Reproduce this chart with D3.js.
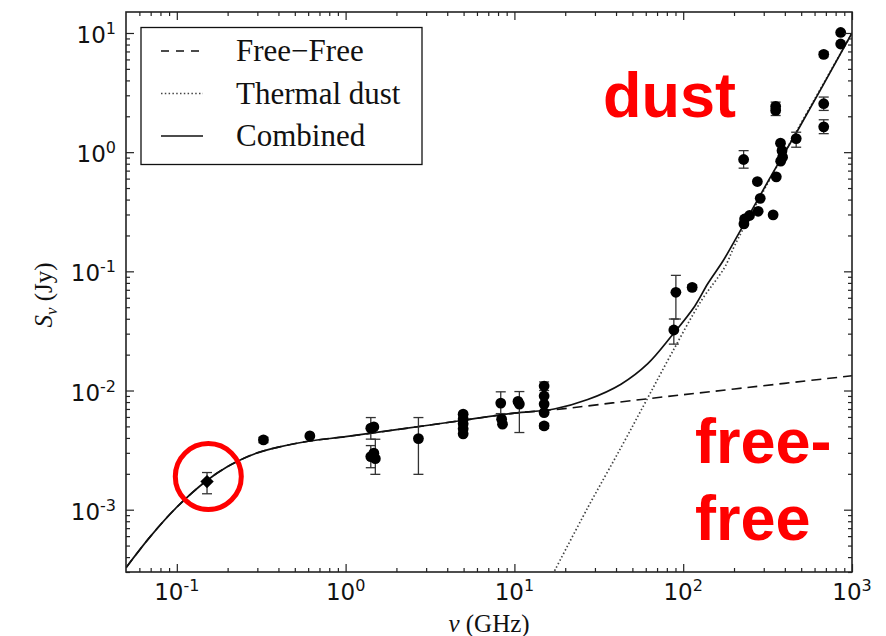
<!DOCTYPE html>
<html>
<head>
<meta charset="utf-8">
<script src="https://cdn.jsdelivr.net/npm/d3@7"></script>
<style>
  body { margin: 0; background: #fff; }
  svg { display: block; }
</style>
</head>
<body>
<svg></svg>
<script>
// Size of the page and the plot box
var width = 886,
    height = 636
var plotLeft = 126, plotRight = 852, plotTop = 12, plotBottom = 572

// Measured points: frequency (GHz), flux (Jy), error bar low / high (null = none)
var pointFreq = [0.326, 0.614, 1.41, 1.47, 1.41, 1.50, 1.47, 2.7,
                 4.97, 4.97, 4.97, 4.97, 4.97, 8.3, 8.4, 8.5, 10.7, 10.5,
                 15.0, 15.0, 15.0, 15.0, 15.0,
                 90.5, 88, 113,
                 857, 857, 680, 680, 680, 353, 353, 377, 385, 388, 378,
                 467, 228, 275, 356, 286, 278, 231, 247, 229, 341]
var pointFlux = [3.85e-3, 4.16e-3, 4.83e-3, 4.95e-3, 2.79e-3, 2.68e-3, 2.98e-3, 3.95e-3,
                 6.33e-3, 5.78e-3, 5.25e-3, 4.77e-3, 4.33e-3, 7.84e-3, 5.75e-3, 5.22e-3, 7.69e-3, 8.1e-3,
                 1.09e-2, 9.0e-3, 7.69e-3, 6.53e-3, 5.05e-3,
                 6.67e-2, 3.22e-2, 7.34e-2,
                 10.1, 8.08, 6.62, 2.55, 1.63, 2.42, 2.24, 1.19, 1.03, 0.908, 0.84,
                 1.30, 0.868, 0.567, 0.621, 0.41, 0.319, 0.275, 0.294, 0.25, 0.298]
var pointLow  = [3.65e-3, null, 3.91e-3, null, 2.25e-3, 1.98e-3, null, 1.98e-3,
                 null, null, null, null, null, 6.4e-3, null, null, 4.44e-3, null,
                 1.0e-2, null, null, null, 4.8e-3,
                 3.98e-2, 2.45e-2, 7.0e-2,
                 null, null, 6.3, 2.24, 1.43, 2.03, null, null, null, null, null,
                 1.10, 0.734, null, null, null, null, null, null, null, null]
var pointHigh = [4.05e-3, null, 5.93e-3, null, 3.45e-3, 3.9e-3, null, 5.93e-3,
                 null, null, null, null, null, 9.75e-3, null, null, 9.8e-3, null,
                 1.18e-2, null, null, null, 5.3e-3,
                 9.25e-2, 3.98e-2, 7.7e-2,
                 null, null, 6.95, 2.90, 1.87, 2.63, null, null, null, null, null,
                 1.47, 1.03, null, null, null, null, null, null, null, null]

// The highlighted low-frequency point (diamond)
var diamondFreq = 0.151, diamondFlux = 1.72e-3, diamondLow = 1.36e-3, diamondHigh = 2.05e-3

// Model curves: [frequency, flux]
var freeFree = [[0.05, 3.26e-4], [0.07, 6.0e-4], [0.1, 1.05e-3], [0.15, 1.75e-3], [0.2, 2.3e-3],
                [0.25, 2.7e-3], [0.3, 3.0e-3], [0.4, 3.35e-3], [0.6, 3.75e-3], [1, 4.1e-3],
                [2, 4.69e-3], [5, 5.63e-3], [10, 6.46e-3], [17.2, 6.9e-3], [60.3, 8.5e-3],
                [201, 1.03e-2], [1000, 1.33e-2]]
var thermalDust = [[16.5, 2.7e-4], [27.2, 1.04e-3], [42.8, 3.32e-3], [60.3, 8.18e-3],
                   [84.9, 2.02e-2], [128, 5.67e-2], [176, 0.108], [202, 0.165],
                   [337, 0.645], [1000, 9.95]]
var combined = [[0.05, 3.26e-4], [0.07, 6.0e-4], [0.1, 1.05e-3], [0.15, 1.75e-3], [0.2, 2.3e-3],
                [0.25, 2.7e-3], [0.3, 3.0e-3], [0.4, 3.35e-3], [0.6, 3.75e-3], [1, 4.1e-3],
                [2, 4.69e-3], [5, 5.63e-3], [10, 6.46e-3], [17.2, 7.0e-3], [27.2, 8.4e-3],
                [42.8, 1.13e-2], [61.7, 1.68e-2], [85, 2.85e-2], [117, 5.1e-2], [140, 7.9e-2],
                [172, 0.122], [202, 0.181], [337, 0.658], [480, 1.55], [1000, 10.0]]

// Tick values
var xMajor = [0.1, 1, 10, 100, 1000]
var xExp = ["-1", "0", "1", "2", "3"]
var yMajor = [1e-3, 1e-2, 1e-1, 1, 10]
var yExp = ["-3", "-2", "-1", "0", "1"]

var legendNames = ["Free\u2212Free", "Thermal dust", "Combined"]

var svg = d3.select("svg")
    .attr("width", width)
    .attr("height", height)

var x = d3.scaleLog().domain([0.05, 1000]).range([plotLeft, plotRight])
var y = d3.scaleLog().domain([3e-4, 15]).range([plotBottom, plotTop])

// minor ticks for each decade
function minorTicks(scale) {
    var d = scale.domain(), out = []
    for (var e = -4; e <= 3; e++) {
        for (var m = 2; m <= 9; m++) {
            var v = m * Math.pow(10, e)
            if (v > d[0] && v < d[1]) out.push(v)
        }
    }
    return out
}

svg.append("defs").append("clipPath").attr("id", "plot")
    .append("rect")
    .attr("x", plotLeft).attr("y", plotTop)
    .attr("width", plotRight - plotLeft).attr("height", plotBottom - plotTop)

var plot = svg.append("g").attr("clip-path", "url(#plot)")

var line = d3.line()
    .x(function(d) { return x(d[0]) })
    .y(function(d) { return y(d[1]) })
    .curve(d3.curveCatmullRom.alpha(0.5))

plot.append("path")
    .attr("d", line(freeFree))
    .style("fill", "none")
    .style("stroke", "#111")
    .style("stroke-width", "1.6px")
    .style("stroke-dasharray", "10,6")

plot.append("path")
    .attr("d", line(thermalDust))
    .style("fill", "none")
    .style("stroke", "#444")
    .style("stroke-width", "1.7px")
    .style("stroke-dasharray", "1.5,2.3")

plot.append("path")
    .attr("d", line(combined))
    .style("fill", "none")
    .style("stroke", "#111")
    .style("stroke-width", "1.7px")

// Error bars
var points = pointFreq.map(function(f, i) {
    return {f: f, s: pointFlux[i], lo: pointLow[i], hi: pointHigh[i]}
})
var withErr = points.filter(function(d) { return d.lo !== null })
withErr.push({f: diamondFreq, s: diamondFlux, lo: diamondLow, hi: diamondHigh})

var bars = plot.append("g")
    .style("stroke", "#333")
    .style("stroke-width", "1.3px")
bars.selectAll("line.v")
    .data(withErr)
    .enter().append("line")
    .attr("x1", function(d) { return x(d.f) })
    .attr("x2", function(d) { return x(d.f) })
    .attr("y1", function(d) { return y(d.lo) })
    .attr("y2", function(d) { return y(d.hi) })
bars.selectAll("line.lo")
    .data(withErr)
    .enter().append("line")
    .attr("x1", function(d) { return x(d.f) - 5 })
    .attr("x2", function(d) { return x(d.f) + 5 })
    .attr("y1", function(d) { return y(d.lo) })
    .attr("y2", function(d) { return y(d.lo) })
bars.selectAll("line.hi")
    .data(withErr)
    .enter().append("line")
    .attr("x1", function(d) { return x(d.f) - 5 })
    .attr("x2", function(d) { return x(d.f) + 5 })
    .attr("y1", function(d) { return y(d.hi) })
    .attr("y2", function(d) { return y(d.hi) })

plot.selectAll("circle.pt")
    .data(points)
    .enter().append("circle")
    .attr("cx", function(d) { return x(d.f) })
    .attr("cy", function(d) { return y(d.s) })
    .attr("r", 5.4)
    .style("fill", "#000")

plot.append("path")
    .attr("d", d3.symbol().type(d3.symbolDiamond2).size(115)())
    .attr("transform", "translate(" + x(diamondFreq) + "," + y(diamondFlux) + ")")
    .style("fill", "#000")

// Axes: ticks inside on all four sides
function styleAxis(g) {
    g.select(".domain").remove()
    g.selectAll("line").style("stroke", "#222").style("stroke-width", "1.2px")
}
var axes = [
    [d3.axisBottom, x, "translate(0," + plotBottom + ")", xMajor],
    [d3.axisTop, x, "translate(0," + plotTop + ")", xMajor],
    [d3.axisLeft, y, "translate(" + plotLeft + ",0)", yMajor],
    [d3.axisRight, y, "translate(" + plotRight + ",0)", yMajor]
]
axes.forEach(function(a) {
    svg.append("g").attr("transform", a[2])
        .call(a[0](a[1]).tickValues(a[3]).tickSize(-8).tickFormat(""))
        .call(styleAxis)
    svg.append("g").attr("transform", a[2])
        .call(a[0](a[1]).tickValues(minorTicks(a[1])).tickSize(-4).tickFormat(""))
        .call(styleAxis)
})

// Frame
svg.append("rect")
    .attr("x", plotLeft).attr("y", plotTop)
    .attr("width", plotRight - plotLeft).attr("height", plotBottom - plotTop)
    .style("fill", "none")
    .style("stroke", "#222")
    .style("stroke-width", "1.6px")

// Tick labels 10^n
var xLab = svg.selectAll("text.xl")
    .data(xMajor)
    .enter().append("text")
    .attr("class", "xl")
    .attr("x", function(d) { return x(d) })
    .attr("y", 600)
    .attr("text-anchor", "middle")
    .style("font", "23px 'DejaVu Sans'")
    .style("fill", "#111")
xLab.append("tspan").text("10")
xLab.append("tspan").attr("dy", -9).style("font-size", "16px")
    .text(function(d, i) { return xExp[i] })

var yLab = svg.selectAll("text.yl")
    .data(yMajor)
    .enter().append("text")
    .attr("class", "yl")
    .attr("x", 116)
    .attr("y", function(d) { return y(d) + 10 })
    .attr("text-anchor", "end")
    .style("font", "23px 'DejaVu Sans'")
    .style("fill", "#111")
yLab.append("tspan").text("10")
yLab.append("tspan").attr("dy", -9).style("font-size", "16px")
    .text(function(d, i) { return yExp[i] })

// Axis titles
var xt = svg.append("text")
    .attr("x", (plotLeft + plotRight) / 2)
    .attr("y", 632)
    .attr("text-anchor", "middle")
    .style("font", "25px 'Liberation Serif'")
    .style("fill", "#111")
xt.append("tspan").style("font-style", "italic").text("\u03bd")
xt.append("tspan").text(" (GHz)")

var yt = svg.append("text")
    .attr("transform", "translate(52,295) rotate(-90)")
    .attr("text-anchor", "middle")
    .style("font", "25px 'Liberation Serif'")
    .style("fill", "#111")
yt.append("tspan").style("font-style", "italic").text("S")
yt.append("tspan").style("font-style", "italic").style("font-size", "17px")
    .attr("dy", 5).text("\u03bd")
yt.append("tspan").attr("dy", -5).text(" (Jy)")

// Legend
var legend = svg.append("g")
legend.append("rect")
    .attr("x", 141).attr("y", 27.5)
    .attr("width", 281).attr("height", 137)
    .style("fill", "#fff")
    .style("stroke", "#111")
    .style("stroke-width", "1.3px")
var dashes = ["8,7", "1.5,2.3", null]
var rows = legend.selectAll("g.row")
    .data(legendNames)
    .enter().append("g")
    .attr("transform", function(d, i) { return "translate(0," + (51 + i * 42.5) + ")" })
rows.append("line")
    .attr("x1", 161).attr("x2", 203)
    .style("stroke", function(d, i) { return i == 1 ? "#444" : "#111" })
    .style("stroke-width", function(d, i) { return i == 1 ? "1.7px" : "1.6px" })
    .style("stroke-dasharray", function(d, i) { return dashes[i] })
rows.append("text")
    .attr("x", 236).attr("y", 10)
    .style("font", "31px 'Liberation Serif'")
    .style("fill", "#111")
    .text(function(d) { return d })

// Red annotations
svg.append("circle")
    .attr("cx", 208.3).attr("cy", 476.5).attr("r", 33)
    .style("fill", "none")
    .style("stroke", "#ff0000")
    .style("stroke-width", "5px")

var notes = [["dust", 603, 116.7], ["free-", 695, 463], ["free", 695, 540]]
svg.selectAll("text.note")
    .data(notes)
    .enter().append("text")
    .attr("class", "note")
    .attr("x", function(d) { return d[1] })
    .attr("y", function(d) { return d[2] })
    .style("font", "bold 63px 'Liberation Sans'")
    .style("fill", "#ff0000")
    .text(function(d) { return d[0] })
</script>
</body>
</html>
